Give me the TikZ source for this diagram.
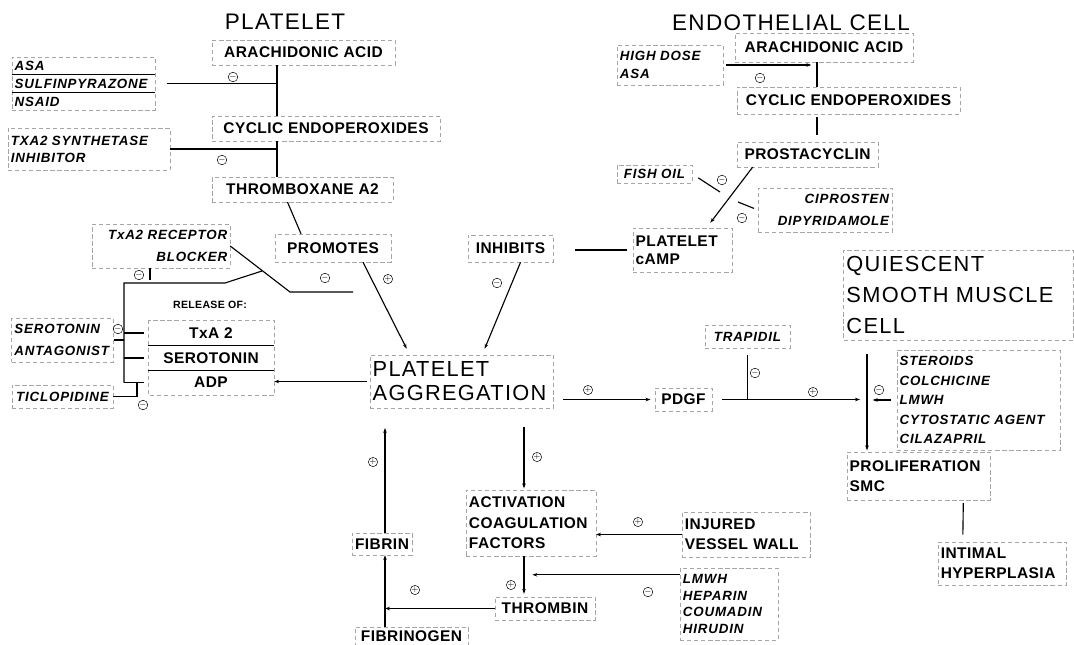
\documentclass[tikz,border=0pt]{standalone}
\usepackage{fontspec}
\usetikzlibrary{positioning,calc,arrows.meta}
\newfontfamily\labfont{Liberation Sans}[LetterSpace=6]
\newfontfamily\boxfont{Liberation Sans}[LetterSpace=3]

\begin{document}
\begin{tikzpicture}[x=0.025cm, y=-0.025cm,
    box/.style={rectangle, draw=black!35, densely dashed, line width=0.3pt, inner sep=2pt, font=\boxfont\bfseries\fontsize{11}{13}\selectfont},
    drug/.style={box, font=\labfont\bfseries\itshape\fontsize{9.5}{12}\selectfont},
    bigbox/.style={box, font=\labfont\fontsize{15.5}{17}\selectfont},
    title/.style={font=\labfont\fontsize{16}{19}\selectfont},
    sign/.style={circle, draw, line width=0.35pt, inner sep=0pt, minimum size=6.5pt, font=\fontsize{5.5}{5.5}\selectfont},
    link/.style={line width=0.8pt},
    arr/.style={link, -{Stealth[length=3.5pt, width=2.5pt]}}
]
\useasboundingbox (0,0) rectangle (1074,645);

% Titles
\node[title] (ptit) at (285,22) {PLATELET};
\node[title] (etit) at (791,23) {ENDOTHELIAL CELL};

% Platelet pathway
\node[box, minimum width=4.58cm, minimum height=0.62cm] (aaP) at (303.5,52.5) {ARACHIDONIC ACID};
\node[box, minimum width=5.7cm, minimum height=0.62cm] (ceP) at (326,128.5) {CYCLIC ENDOPEROXIDES};
\node[box, minimum width=4.52cm, minimum height=0.62cm] (txP) at (302.5,189.5) {THROMBOXANE A2};
\node[drug, text width=3.44cm, minimum height=1.32cm, align=left] (asa) at (83.5,83.5) {ASA\\[0.8pt]SULFINPYRAZONE\\[0.8pt]NSAID};
\node[drug, text width=3.9cm, minimum height=1.05cm, align=left] (txs) at (89,149) {TXA2 SYNTHETASE\\INHIBITOR};
\node[drug, text width=3.31cm, minimum height=1.1cm, align=right] (ttrb) at (161,246) {TxA2 RECEPTOR\\[4pt]BLOCKER};
\node[box, minimum width=2.9cm, minimum height=0.7cm] (prom) at (333,248) {PROMOTES};
\node[box, minimum width=2.13cm, minimum height=0.68cm] (inhb) at (510.5,248.5) {INHIBITS};
\node[bigbox, text width=4.44cm, minimum height=1.33cm, align=left] (agg) at (461.5,381.5) {PLATELET\\AGGREGATION};

% Release of
\node[font=\boxfont\bfseries\fontsize{7.5}{9}\selectfont] (relof) at (210,305) {RELEASE OF:};
\node[box, draw=none, minimum width=3.15cm, minimum height=0.65cm] (relA) at (211,333) {TxA 2};
\node[box, draw=none, minimum width=3.15cm, minimum height=0.6cm] (relB) at (211,358) {SEROTONIN};
\node[box, draw=none, minimum width=3.15cm, minimum height=0.62cm] (relC) at (211,382.5) {ADP};
\draw[draw=black!35, densely dashed, line width=0.3pt] (relA.north west) rectangle (relC.south east);
\draw[line width=0.6pt] (relB.north west) -- (relB.north east);
\draw[line width=0.6pt] (relB.south west) -- (relB.south east);
\node[drug, text width=2.4cm, minimum height=1.1cm, align=left] (sera) at (62.5,340) {SEROTONIN\\[3.6pt]ANTAGONIST};
\node[drug, minimum width=2.53cm, minimum height=0.58cm] (ticl) at (62.5,396.5) {TICLOPIDINE};

% separators of the drug list
\draw[line width=0.5pt] ($(asa.north west)!1/3!(asa.south west)$) -- ($(asa.north east)!1/3!(asa.south east)$);
\draw[line width=0.5pt] ($(asa.north west)!2/3!(asa.south west)$) -- ($(asa.north east)!2/3!(asa.south east)$);

% Endothelial cell
\node[box, minimum width=4.45cm, minimum height=0.72cm] (aaE) at (824,47.5) {ARACHIDONIC ACID};
\node[drug, text width=2.5cm, minimum height=1.0cm, align=left] (hda) at (670,65) {HIGH DOSE\\[0.8pt]ASA};
\node[box, minimum width=5.58cm, minimum height=0.68cm] (ceE) at (848.5,100.5) {CYCLIC ENDOPEROXIDES};
\node[box, minimum width=3.53cm, minimum height=0.62cm] (pgi) at (807.5,154.5) {PROSTACYCLIN};
\node[drug, minimum width=1.88cm, minimum height=0.45cm] (fish) at (654.5,174) {FISH OIL};
\node[drug, text width=3.2cm, minimum height=1.1cm, align=right] (cipr) at (825,210) {CIPROSTEN\\[3.6pt]DIPYRIDAMOLE};
\node[box, text width=2.34cm, minimum height=1.1cm, align=left] (camp) at (682.5,250) {PLATELET\\cAMP};

% Smooth muscle cell
\node[bigbox, text width=5.6cm, minimum height=2.25cm, align=left] (qsmc) at (958.5,295) {QUIESCENT\\[5pt]SMOOTH MUSCLE\\[5pt]CELL};
\node[drug, minimum width=2.13cm, minimum height=0.58cm] (trap) at (747.5,336.5) {TRAPIDIL};
\node[box, minimum width=1.43cm, minimum height=0.58cm] (pdgf) at (683.5,399.5) {PDGF};
\node[drug, text width=3.94cm, minimum height=2.5cm, align=left] (ster) at (978.5,400) {STEROIDS\\[1.8pt]COLCHICINE\\[1.8pt]LMWH\\[1.8pt]CYTOSTATIC AGENT\\[1.8pt]CILAZAPRIL};
\node[box, text width=3.44cm, minimum height=1.2cm, align=left] (prol) at (918.5,476) {PROLIFERATION\\[1.2pt]SMC};
\node[box, text width=3.06cm, minimum height=1.08cm, align=left] (intim) at (1002,563.5) {INTIMAL\\[1.2pt]HYPERPLASIA};

% Coagulation
\node[box, text width=3.1cm, minimum height=1.65cm, align=left] (acf) at (531,523) {ACTIVATION\\[1.5pt]COAGULATION\\[1.5pt]FACTORS};
\node[box, text width=3.06cm, minimum height=1.13cm, align=left] (ivw) at (746,534.5) {INJURED\\[1.2pt]VESSEL WALL};
\node[box, minimum width=2.5cm, minimum height=0.58cm] (thr) at (545,608.5) {THROMBIN};
\node[drug, text width=2.3cm, minimum height=1.8cm, align=left] (lmwh) at (729,604) {LMWH\\HEPARIN\\COUMADIN\\HIRUDIN};
\node[box, minimum width=1.5cm, minimum height=0.55cm] (fibrin) at (382,544) {FIBRIN};
\node[box, minimum width=2.83cm, minimum height=0.45cm] (fibgen) at (411.5,636) {FIBRINOGEN};

% Columns for the straight connectors
\coordinate (pv) at (277,0);
\coordinate (ev) at (817,0);
\coordinate (smc) at (867,0);
\coordinate (cv) at (524,0);
\coordinate (fv) at (385,0);

% Platelet connectors
\draw[link] (aaP.south -| pv) -- (ceP.north -| pv);
\draw[link] (ceP.south -| pv) -- (txP.north -| pv);
\draw[link, shorten <=8pt] (asa.east) -- (asa.east -| pv);
\draw[link] (txs.east) -- (txs.east -| pv);
\draw[link] ($(txP.south)+(-15,0)$) -- ($(prom.north)+(-32,0)$);
\draw[arr] ($(prom.south)+(30,0)$) -- ($(agg.north west)+(37,-6)$);
\draw[arr] ($(inhb.south)+(10,0)$) -- ($(agg.north west)+(115,-6)$);
\draw[link, shorten <=4pt, shorten >=0.55cm] (camp.west) -- (camp.west -| inhb.east);

% Release bracket and blockers
\coordinate (brT) at (124,283);
\coordinate (kink) at (225,283);
\coordinate (cross) at (262,271);
\coordinate (bkA) at (290,292);
\coordinate (bkB) at (353,292);
\draw[link] (brT |- relC.west) -- (brT) -- (kink) -- (cross);
\draw[link] (ttrb.east) -- (bkA) -- (bkB);
\foreach \r in {relA,relB,relC}
    \draw[link, shorten >=3pt] (brT |- \r.west) -- (\r.west);
\draw[link] (sera.east) -- (sera.east -| brT);
\draw[link] (ticl.east) -| ($(brT |- relC.west)+(13,0)$);
\draw[link] (150,268) -- (150,280);
\draw[arr, shorten <=2pt] (agg.west) -- (agg.west -| relC.east);

% Endothelial connectors
\draw[link] (aaE.south -| ev) -- (ceE.north -| ev);
\draw[arr, shorten <=2pt, shorten >=4pt] (hda.east) -- (hda.east -| ev);
\draw[link, shorten <=2pt, shorten >=5pt] (ceE.south -| ev) -- (pgi.north -| ev);
\draw[arr] ($(pgi.south west)+(16,0)$) -- ($(camp.north east)+(-22,-5)$);
\coordinate (fishE) at (720,192);
\coordinate (ciprE) at (738,202);
\draw[link, shorten <=5pt] (fish.east) -- (fishE);
\draw[link, shorten <=3pt] (cipr.west) -- (ciprE);

% Smooth muscle connectors
\draw[arr, shorten <=7pt, shorten >=3pt] (agg.east |- pdgf.west) -- (pdgf.west);
\draw[arr, shorten <=7pt, shorten >=5pt] (pdgf.east) -- (pdgf.east -| smc);
\draw[link, shorten <=5pt] (trap.south) -- (trap.south |- pdgf.east);
\draw[arr, shorten <=10pt, shorten >=1pt] (qsmc.south -| smc) -- (prol.north -| smc);
\draw[arr, shorten <=4pt, shorten >=4pt] (ster.west) -- (ster.west -| smc);
\draw[link, shorten <=2pt, shorten >=5pt] ($(prol.south east)+(-27,0)$) -- ($(intim.north west)+(25,0)$);

% Coagulation connectors
\coordinate (lm) at ($(lmwh.north west)+(0,7)$);
\draw[arr, shorten <=13pt, shorten >=1pt] (agg.south -| cv) -- (acf.north -| cv);
\draw[arr, shorten >=2pt] (acf.south -| cv) -- (thr.north -| cv);
\draw[arr] (ivw.west) -- (ivw.west -| acf.east);
\draw[arr, shorten >=6pt] (lm) -- (lm -| cv);
\draw[arr] (thr.west) -- (thr.west -| fv);
\draw[arr] (fibgen.north -| fv) -- (fibrin.south -| fv);
\draw[arr, shorten >=14pt] (fibrin.north -| fv) -- (agg.south -| fv);

% Signs
\foreach \p [count=\k] in {(233,77),(222,160),(497,283),(325,278),(139,275),(118,329),(143,405),(760,78),(722,180),(742,218),(755,373),(879,390),(648,592)}
    \node[sign] (neg\k) at \p {$-$};
\foreach \p [count=\k] in {(388,279),(588,390),(813,392),(537,457),(511,585),(638,522),(415,590),(373,462)}
    \node[sign] (pos\k) at \p {$+$};

\end{tikzpicture}
\end{document}
